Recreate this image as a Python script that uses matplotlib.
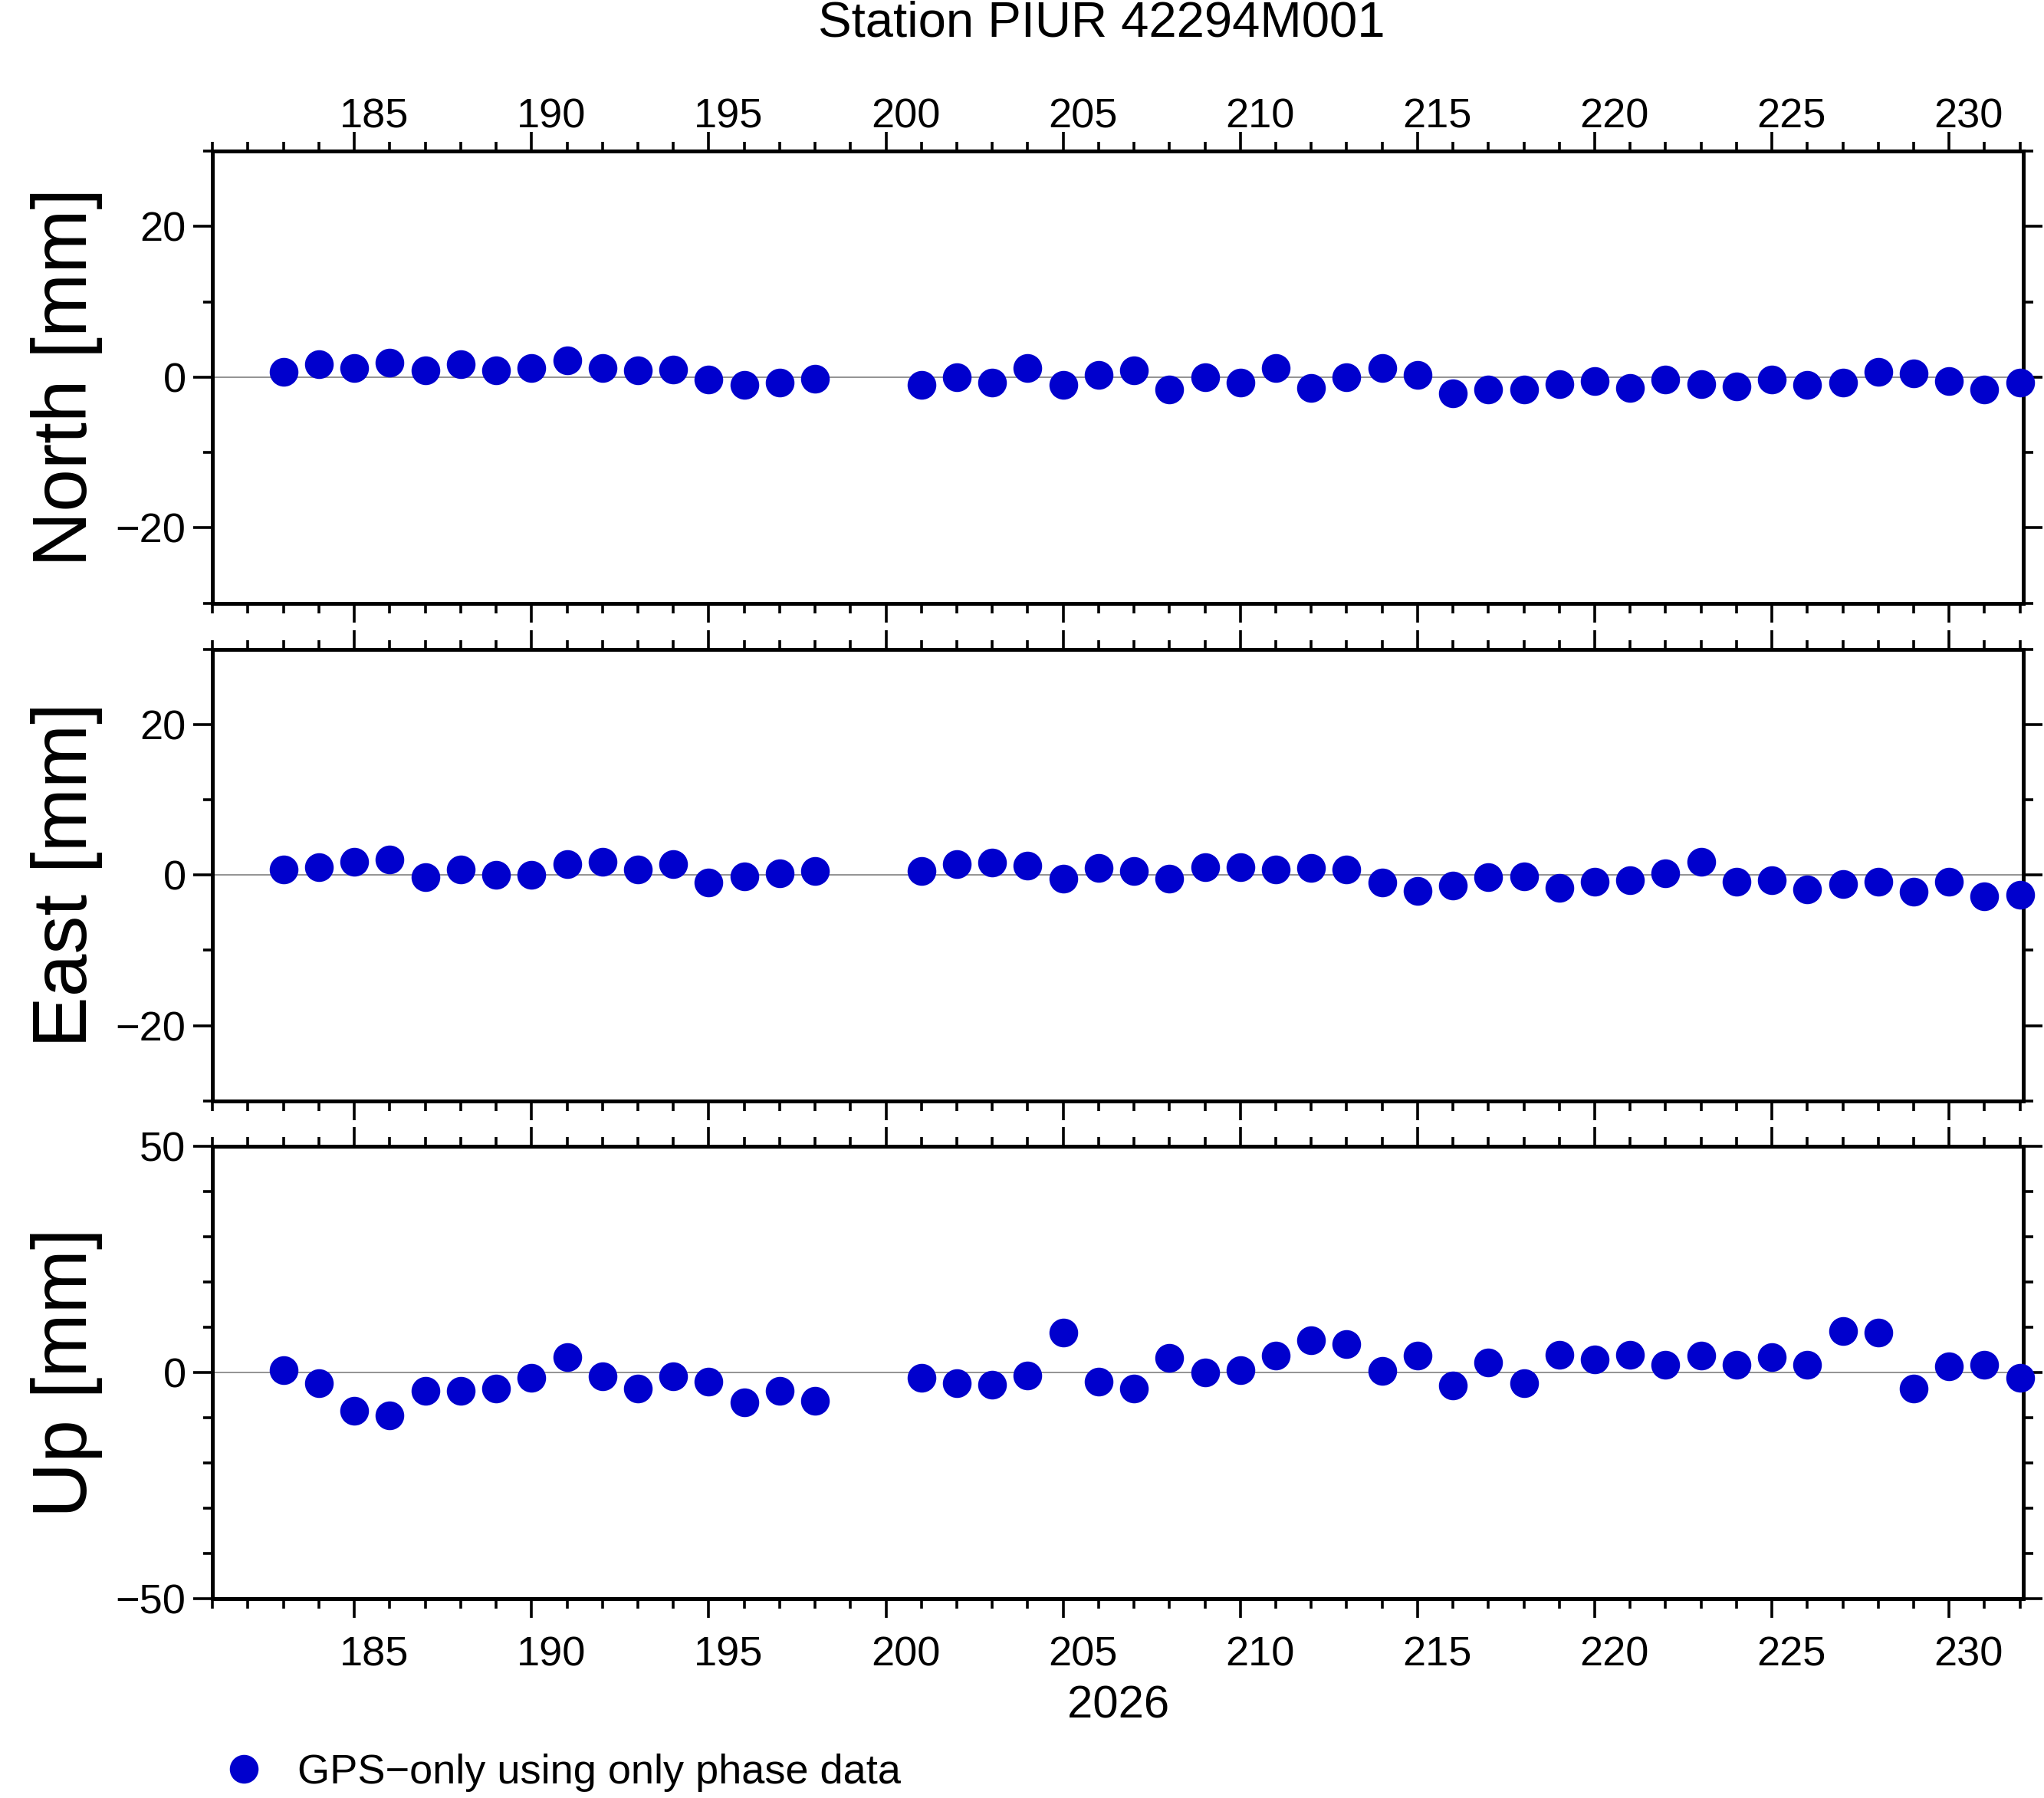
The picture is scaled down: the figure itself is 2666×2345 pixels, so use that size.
import matplotlib.pyplot as plt
import numpy as np
from matplotlib.ticker import MultipleLocator, NullFormatter
import matplotlib.transforms as mtrans

plt.rcParams['font.family'] = ['Liberation Sans', 'DejaVu Sans']

days = [183, 184, 185, 186, 187, 188, 189, 190, 191, 192, 193, 194, 195, 196, 197, 198,
        201, 202, 203, 204, 205, 206, 207, 208, 209, 210, 211, 212, 213, 214, 215, 216,
        217, 218, 219, 220, 221, 222, 223, 224, 225, 226, 227, 228, 229, 230, 231, 232]
north = [0.7, 1.7, 1.2, 1.9, 0.9, 1.7, 0.9, 1.2, 2.2, 1.2, 0.9, 1.0, -0.3, -1.0, -0.7, -0.2,
         -1.0, 0.0, -0.7, 1.2, -1.0, 0.3, 0.9, -1.6, 0.0, -0.7, 1.2, -1.4, 0.0, 1.2, 0.3, -2.1,
         -1.6, -1.6, -0.9, -0.5, -1.4, -0.3, -0.9, -1.2, -0.3, -1.0, -0.7, 0.7, 0.5, -0.5, -1.6, -0.7]
east = [0.7, 1.0, 1.7, 2.1, -0.3, 0.7, 0.0, 0.0, 1.4, 1.7, 0.7, 1.4, -1.0, -0.2, 0.2, 0.5,
        0.5, 1.4, 1.6, 1.2, -0.5, 0.9, 0.5, -0.5, 1.0, 1.0, 0.7, 0.9, 0.7, -1.0, -2.1, -1.4,
        -0.3, -0.2, -1.7, -0.9, -0.7, 0.2, 1.7, -0.9, -0.7, -1.9, -1.2, -0.9, -2.2, -0.9, -2.8, -2.6]
up = [0.6, -2.3, -8.4, -9.5, -4.0, -4.0, -3.5, -1.2, 3.5, -0.9, -3.5, -0.9, -2.0, -6.6, -4.0, -6.3,
      -1.2, -2.3, -2.6, -0.6, 8.9, -2.0, -3.5, 3.2, 0.0, 0.6, 3.7, 7.2, 6.3, 0.3, 3.7, -2.9,
      2.3, -2.3, 4.0, 2.9, 4.0, 1.7, 3.7, 1.7, 3.5, 1.7, 9.2, 8.9, -3.5, 1.4, 1.7, -1.2]
day_labels = [185, 190, 195, 200, 205, 210, 215, 220, 225, 230]

color = '#0000cd'
fig = plt.figure(figsize=(13.33, 11.725), dpi=200)

panels = [
    ('North [mm]', north, 30, 20, 10, [0.104, 0.6645, 0.886, 0.2515]),
    ('East [mm]', east, 30, 20, 10, [0.104, 0.3877, 0.886, 0.2513]),
    ('Up [mm]', up, 50, 50, 10, [0.104, 0.1109, 0.886, 0.2514]),
]
axes = []
for i, (label, vals, lim, major, minor, rect) in enumerate(panels):
    ax = fig.add_axes(rect)
    ax.axhline(0, color='grey', lw=0.6, zorder=1)
    ax.plot(days, vals, 'o', color=color, ms=12.5, clip_on=False, zorder=3)
    ax.set_xlim(181.0, 232.1)
    ax.set_ylim(-lim, lim)
    ax.xaxis.set_major_locator(MultipleLocator(5))
    ax.xaxis.set_minor_locator(MultipleLocator(1))
    ax.xaxis.set_major_formatter(NullFormatter())
    ax.yaxis.set_major_locator(MultipleLocator(major))
    ax.yaxis.set_minor_locator(MultipleLocator(minor))
    ax.tick_params(which='both', direction='out', top=True, right=True, width=1.3,
                   labelsize=19.5, labelright=False)
    ax.tick_params(which='major', length=9)
    ax.tick_params(which='minor', length=4.5)
    for s in ax.spines.values():
        s.set_linewidth(1.8)
    ax.set_ylabel(label, fontsize=36, labelpad=6)
    axes.append(ax)

# day labels are drawn half a day to the right of their ticks
trans_top = mtrans.blended_transform_factory(axes[0].transData, axes[0].transAxes)
trans_bot = mtrans.blended_transform_factory(axes[2].transData, axes[2].transAxes)
for d in day_labels:
    axes[0].text(d + 0.55, 1.075, str(d), transform=trans_top, ha='center', va='center', fontsize=19.5)
    axes[2].text(d + 0.55, -0.125, str(d), transform=trans_bot, ha='center', va='center', fontsize=19.5)

fig.text(0.539, 0.987, 'Station PIUR 42294M001', ha='center', va='center', fontsize=23.5)
fig.text(0.547, 0.051, '2026', ha='center', va='center', fontsize=21.5)

ax = axes[2]
ax.plot([], [], 'o', color=color, ms=12.5, label='GPS\u2212only using only phase data')
ax.legend(loc='center left', bbox_to_anchor=(-0.015, -0.385), frameon=False, fontsize=19.5,
          handletextpad=0.3, borderaxespad=0)

fig.savefig('out.png', dpi=200)
